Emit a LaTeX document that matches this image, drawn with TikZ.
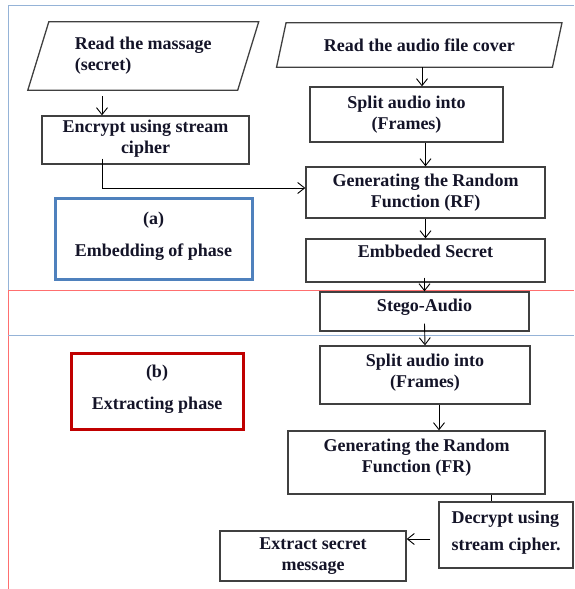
\documentclass[tikz,border=0pt]{standalone}
\usepackage{fontspec}
\setmainfont{Liberation Serif}
\usetikzlibrary{shapes.geometric, arrows.meta, positioning}
\definecolor{boxdraw}{HTML}{404040}
\definecolor{frameblue}{HTML}{95B3D7}
\definecolor{framered}{HTML}{FF6F6F}
\definecolor{phaseadraw}{HTML}{4F81BD}
\definecolor{phasebdraw}{HTML}{C00000}
\definecolor{txtcol}{HTML}{141428}
\tikzset{
  blk/.style={rectangle, draw=boxdraw, line width=1.3pt, align=center, text=txtcol, font=\bfseries\fontsize{18}{21}\selectfont, inner sep=0pt},
  inbox/.style={rectangle, align=center, text=txtcol, font=\bfseries\fontsize{18}{21}\selectfont, inner sep=0pt},
  phase/.style={rectangle, line width=3pt, align=center, text=txtcol, font=\bfseries\fontsize{18}{32}\selectfont, inner sep=0pt},
  arr/.style={->, >={Straight Barb[length=7pt, width=11pt]}, line width=0.9pt, draw=black},
  link/.style={line width=0.9pt, draw=black},
  sep/.style={line width=1pt},
}
% slanted outline round an input node: #1 node name, #2 half slant
\newcommand\slantbox[2]{%
  \draw[draw=boxdraw, line width=1.3pt]
    ([xshift=#2]#1.north west) -- ([xshift=#2]#1.north east)
    -- ([xshift=-#2]#1.south east) -- ([xshift=-#2]#1.south west) -- cycle;}
\begin{document}
\begin{tikzpicture}[x=1pt, y=-1pt]
  \useasboundingbox (0,0) rectangle (574,589);
  % frame lines of the two phases
  \draw[sep, frameblue] (8,335) -- (8,5) -- (574,5);
  \draw[sep, framered] (8,589) -- (8,290) -- (574,290);
  \draw[sep, frameblue] (8,335) -- (574,335);
  % (a) embedding
  \node[inbox, minimum width=209.5pt, minimum height=68pt, align=left] (msg) at (143.25,56) {Read the massage\\(secret)};
  \slantbox{msg}{10.5pt}
  \node[inbox, minimum width=275.5pt, minimum height=44pt] (cover) at (419.25,45) {Read the audio file cover};
  \slantbox{cover}{4.75pt}
  \node[blk, minimum width=193pt, minimum height=55pt] (split) at (406.5,114.5) {Split audio into\\(Frames)};
  \node[blk, minimum width=207pt, minimum height=48pt, text depth=6pt] (encrypt) at (145.5,140) {Encrypt using stream\\cipher};
  \node[blk, minimum width=239pt, minimum height=51pt] (genrf) at (425.5,192.5) {Generating the Random\\Function (RF)};
  \node[blk, minimum width=239pt, minimum height=43pt, text depth=18pt] (embed) at (425.5,260.5) {Embbeded Secret};
  \node[blk, minimum width=209pt, minimum height=39pt, text depth=12pt] (stego) at (424.5,311.5) {Stego-Audio};
  \node[phase, draw=phaseadraw, minimum width=197pt, minimum height=81pt, text depth=8pt] (phasea) at (153.5,238.5) {(a)\\Embedding of phase};
  % (b) extracting
  \node[blk, minimum width=210pt, minimum height=58pt, text depth=9pt] (split2) at (425,375) {Split audio into\\(Frames)};
  \node[blk, minimum width=257pt, minimum height=63pt, text depth=14pt] (genfr) at (416.5,462.5) {Generating the Random\\Function (FR)};
  \node[blk, minimum width=134pt, minimum height=66pt, align=left, text depth=8pt] (decrypt) at (506,535) {Decrypt using\\[6pt]stream cipher.};
  \node[blk, minimum width=186pt, minimum height=50pt] (extract) at (313,556) {Extract secret\\message};
  \node[phase, draw=phasebdraw, minimum width=172pt, minimum height=76pt, text depth=8pt] (phaseb) at (157,391) {(b)\\Extracting phase};
  % connectors
  \coordinate (ea) at ([xshift=-43.5pt]encrypt.north);
  \draw[arr, shorten <=6pt] (msg.south -| ea) -- (ea);
  \draw[arr] ([xshift=-43.5pt, yshift=6pt]encrypt.south) |- ([yshift=4.5pt]genrf.west);
  \coordinate (sa) at ([xshift=15.5pt]split.north);
  \draw[arr] (cover.south -| sa) -- (sa);
  \draw[arr] (split.south -| genrf.north) -- (genrf.north);
  \draw[arr] (genrf.south) -- (embed.north);
  \draw[arr] ([yshift=5pt]embed.south -| stego.north) -- (stego.north);
  \draw[arr] ([yshift=8pt]stego.south) -- (split2.north);
  \coordinate (gb) at ([xshift=14pt]split2.south);
  \draw[arr] (gb) -- (gb |- genfr.north);
  \coordinate (dt) at ([xshift=-15pt]decrypt.north);
  \draw[link] (dt |- genfr.south) -- (dt);
  \coordinate (dw) at ([yshift=-4pt]decrypt.west);
  \draw[arr, shorten <=8pt] (dw) -- (dw -| extract.east);
\end{tikzpicture}
\end{document}
